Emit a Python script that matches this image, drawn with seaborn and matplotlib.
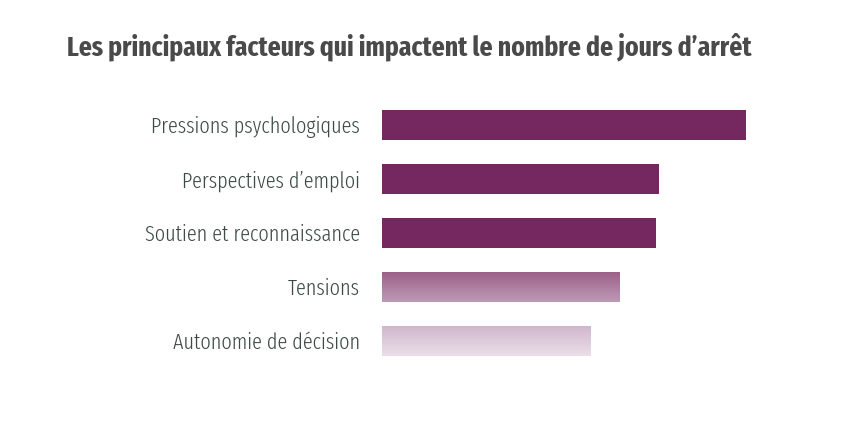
import matplotlib as mpl
import matplotlib.pyplot as plt
import matplotlib.font_manager as fm
import seaborn as sns
import numpy as np
import pandas as pd
from matplotlib.colors import LinearSegmentedColormap

# data (arbitrary units)
facteurs = ["Pressions psychologiques", "Perspectives d\u2019emploi",
            "Soutien et reconnaissance", "Tensions", "Autonomie de d\u00e9cision"]
impact = [364, 277, 274, 238, 209]

title = "Les principaux facteurs qui impactent le nombre de jours d\u2019arr\u00eat"

solid = "#74285F"
# gradient fills (top colour, bottom colour) for the weaker factors
gradients = {3: ("#9B5F88", "#BE9AB6"), 4: ("#CFB6CB", "#EBDEE9")}


def stretch_num(f):
    st = f.stretch
    if isinstance(st, str):
        st = fm.stretch_dict.get(st, 500)
    if "ExtraCondensed" in f.name or "Extra Condensed" in f.name:
        st = min(st, 200)
    elif "SemiCondensed" in f.name or "Semi Condensed" in f.name:
        st = min(st, 400)
    elif "Condensed" in f.name or "Narrow" in f.name:
        st = min(st, 300)
    return st


def weight_num(f):
    w = f.weight
    if isinstance(w, str):
        return fm.weight_dict.get(w, 400)
    return w


narrow = [f for f in fm.fontManager.ttflist if stretch_num(f) < 500 and f.style == "normal"]
narrow.sort(key=stretch_num)
# light/regular face for the labels, bold face for the title
regular = sorted([f for f in narrow if weight_num(f) <= 400],
                 key=lambda f: (stretch_num(f), abs(weight_num(f) - 300)))
bold = sorted([f for f in narrow if weight_num(f) >= 600],
              key=lambda f: (stretch_num(f), abs(weight_num(f) - 700)))

label_font = fm.FontProperties(fname=regular[0].fname) if regular else fm.FontProperties(family="DejaVu Sans")
title_font = fm.FontProperties(fname=bold[0].fname) if bold else fm.FontProperties(family="DejaVu Sans", weight="bold")

sns.set_style("white")

df = pd.DataFrame({"facteur": facteurs, "impact": impact})

fig = plt.figure(figsize=(8.51, 4.43), dpi=100)
ax = fig.add_axes([382 / 851, 1 - 368 / 443, 440 / 851, 270.5 / 443])

sns.barplot(data=df, y="facteur", x="impact", color=solid, width=0.555,
            saturation=1, linewidth=0, ax=ax)

for i, bar in enumerate(ax.patches):
    if i in gradients:
        x0, y0 = bar.get_x(), bar.get_y()
        w, h = bar.get_width(), bar.get_height()
        cmap = LinearSegmentedColormap.from_list("g", list(gradients[i]))
        grad = np.linspace(0, 1, 64).reshape(-1, 1)
        im = ax.imshow(grad, cmap=cmap, aspect="auto", origin="upper",
                       extent=[x0, x0 + w, y0 + h, y0], zorder=bar.get_zorder())
        im.set_clip_path(bar)
        bar.set_facecolor("none")

ax.set_xlim(0, 440)
ax.set_ylim(4.5, -0.5)
ax.set_xlabel("")
ax.set_ylabel("")
ax.set_xticks([])
ax.tick_params(axis="y", length=0, pad=16, labelcolor="#3D4B47")
for t in ax.get_yticklabels():
    t.set_fontproperties(label_font)
    t.set_fontsize(16)
sns.despine(ax=ax, left=True, bottom=True)

title_font.set_size(18)
ttl = fig.text(67 / 851, 1 - 47 / 443, title, fontproperties=title_font,
               color="#4A4A4A", va="center", ha="left")

# fit text sizes to the widths seen in the reference
fig.canvas.draw()
r = fig.canvas.get_renderer()
w = ttl.get_window_extent(r).width
ttl.set_fontsize(18 * 685 / w)
w = ax.get_yticklabels()[0].get_window_extent(r).width
for t in ax.get_yticklabels():
    t.set_fontsize(16 * 210 / w)

fig.savefig("out.png", dpi=100, facecolor="white")
